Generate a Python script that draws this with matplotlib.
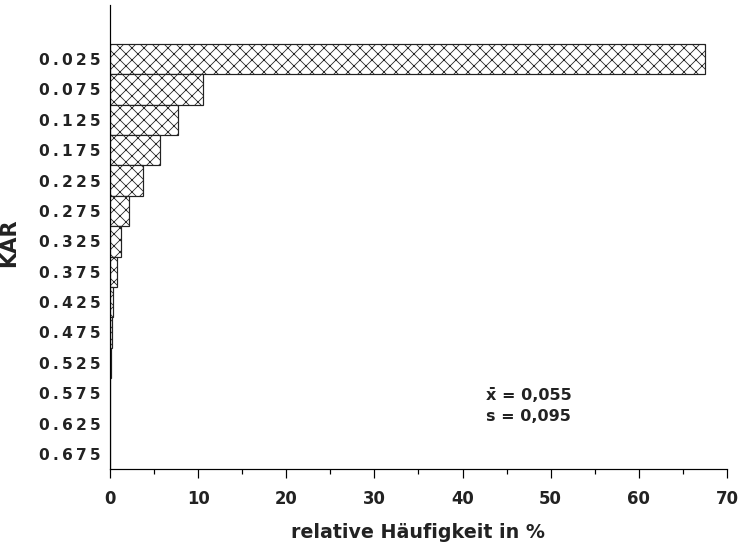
import matplotlib.pyplot as plt
from matplotlib.ticker import MultipleLocator

# --- DATA ---
kar_classes = [0.025, 0.075, 0.125, 0.175, 0.225, 0.275, 0.325,
               0.375, 0.425, 0.475, 0.525, 0.575, 0.625, 0.675]
rel_freq = [67.5, 10.5, 7.7, 5.7, 3.7, 2.2, 1.3,
            0.8, 0.4, 0.2, 0.1, 0.05, 0.03, 0.02]
class_width = 0.05
x_ticks = [0, 10, 20, 30, 40, 50, 60, 70]
mean_text = "x\u0304 = 0,055"
sd_text = "s = 0,095"

# dpi 72 -> 1 pt == 1 px
DPI = 72
fig = plt.figure(figsize=(741 / DPI, 552 / DPI), dpi=DPI)
ax = fig.add_axes([0.1484, 0.150, 0.8326, 0.841])

plt.rcParams['hatch.linewidth'] = 0.8

ax.barh(kar_classes, rel_freq, height=class_width, color='white',
        edgecolor='#222222', linewidth=1.2, hatch='xx')

ax.set_xlim(0, 70)
ax.set_ylim(0.7, -0.064)

ax.spines['top'].set_visible(False)
ax.spines['right'].set_visible(False)
ax.spines['left'].set_linewidth(1.2)
ax.spines['bottom'].set_linewidth(1.2)

ax.set_xticks(x_ticks)
ax.set_xticklabels([str(t) for t in x_ticks], fontsize=16.5,
                   fontweight='bold', color='#222222')
ax.xaxis.set_minor_locator(MultipleLocator(5))
ax.tick_params(axis='x', which='major', length=9, width=1.2, pad=12)
ax.tick_params(axis='x', which='minor', length=5, width=1.2)

# spaced-out look of the old plotter labels
ax.set_yticks(kar_classes)
ax.set_yticklabels(['\u2009'.join(f"{k:.3f}") for k in kar_classes],
                   fontsize=15.5, fontweight='bold', color='#222222')
ax.tick_params(axis='y', length=0, pad=9)

ax.set_xlabel("relative Häufigkeit in %", fontsize=19, fontweight='bold',
              color='#222222', labelpad=15)
ax.set_ylabel("KAR", fontsize=21, fontweight='bold', color='#222222')
ax.yaxis.set_label_coords(-0.148, 0.487)

ax.text(0.61, 0.159, mean_text, transform=ax.transAxes, fontsize=16,
        fontweight='bold', color='#222222', va='center')
ax.text(0.61, 0.114, sd_text, transform=ax.transAxes, fontsize=16,
        fontweight='bold', color='#222222', va='center')

fig.savefig("out.png", dpi=DPI)
plt.close(fig)
